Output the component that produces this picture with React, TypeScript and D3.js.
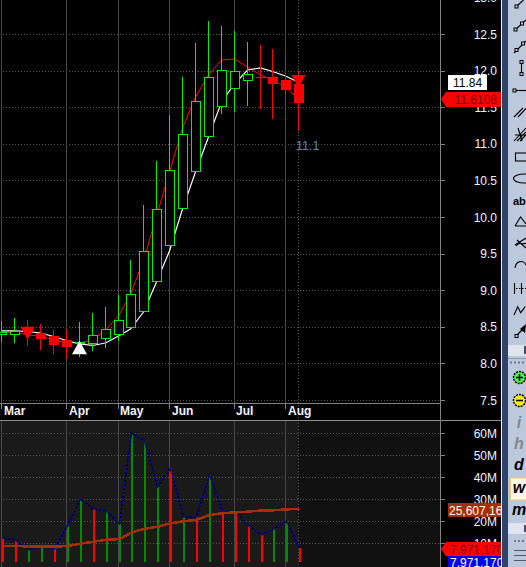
import React from "react";
import * as d3 from "d3";

const opens = [8.398,8.406,8.484,8.42,8.374,8.316,8.272,8.279,8.337,8.392,8.488,8.706,9.116,9.608,10.119,10.619,11.097,11.507,11.753,11.862,11.908,11.913,11.872,11.817];
const closes = [8.425,8.443,8.429,8.333,8.255,8.224,8.292,8.384,8.466,8.589,8.944,9.531,10.105,10.638,11.13,11.581,11.908,12.004,11.99,11.949,11.899,11.817,11.735,11.557];
const highs = [8.575,8.62,8.593,8.538,8.456,8.466,8.566,8.689,8.766,8.934,9.413,10.164,10.765,11.393,11.908,12.377,12.678,12.609,12.541,12.391,12.35,12.295,12.199,11.995];
const lows = [8.297,8.283,8.238,8.187,8.128,8.06,8.087,8.169,8.21,8.31,8.488,8.706,9.116,9.608,10.119,10.619,11.097,11.407,11.434,11.516,11.475,11.339,11.339,11.175];
const whiteLine = [8.443,8.443,8.436,8.415,8.367,8.313,8.265,8.245,8.279,8.374,8.47,8.702,9.112,9.536,10.109,10.615,11.093,11.571,11.817,12.008,12.036,11.988,11.926,11.84];
const redLine = [8.415,8.429,8.388,8.374,8.32,8.279,8.279,8.32,8.456,8.648,8.948,9.399,10.014,10.615,11.216,11.639,11.94,12.145,12.158,12.049,11.94,11.872,11.776,11.61];
const volumes = [12.3,11.4,7,8.8,7.4,17.9,30,25.6,24.5,18.8,60,56.5,35.6,44.1,22,22,41,24.7,24.3,17.9,13.8,16.5,20,7.97];
const volumeUp = [0,0,1,1,0,1,1,0,1,1,1,1,1,0,1,0,1,0,0,0,0,1,1,0];
const volumeAvg = [8.8,8.8,8.5,8.5,8.5,8.7,9.8,10.7,11.6,11.9,14.9,16.6,17.5,19,20,20.7,22.8,23.7,24,24.4,24.9,25,25.4,25.6];
const priceTicks = ["13.0","12.5","12.0","11.5","11.0","10.5","10.0","9.5","9.0","8.5","8.0","7.5"];
const volumeTicks = [60,50,40,30,20,10];
const months = ["Mar","Apr","May","Jun","Jul","Aug"];
const monthIndex = [0,5,9,13,18,22];
const monthLabelX = [4,69,120,172,236,288];
const sellSignals = [[2,8.5],[23,11.94]];
const buySignals = [[6,8.31]];

const FONT = "'Liberation Sans', Arial, sans-serif";
const xScale = d3.scaleLinear().domain([0,23]).range([1.3,298.3]);
const yPrice = d3.scaleLinear().domain([7.5,12.5]).range([400,34]);
const yVol = d3.scaleLinear().domain([1.6,60]).range([561.7,433.3]);
const px = (i:number)=>Math.round(xScale(i));
const idx = d3.range(opens.length);
const priceLine = (vals:number[]) => d3.line<number>().x(i=>px(i)+0.5).y(i=>yPrice(vals[i]))(idx) as string;
const volLine = (vals:number[]) => d3.line<number>().x(i=>px(i)+1.5).y(i=>yVol(vals[i]))(idx) as string;
const TXT = "#f0f4ff";
const GREEN = "#00f000";
const RED = "#ff0000";

function Toolbar(){
  const ic = {stroke:"#000",fill:"none",strokeWidth:1.1};
  const h = (x:number,y:number)=><rect x={x-1.5} y={y-1.5} width={3} height={3} fill="#bcc8dc" stroke="#000" strokeWidth={1}/>;
  const letter = (t:string,y:number,c:string)=><text x={519} y={y} textAnchor="middle" fontFamily="'Liberation Sans',sans-serif" fontStyle="italic" fontWeight="bold" fontSize={16} fill={c}>{t}</text>;
  return <g>
    <rect x={501} y={0} width={1} height={567} fill="#fff0c8"/>
    <rect x={502} y={0} width={6} height={567} fill="#2f4468"/>
    <rect x={508} y={0} width={18} height={567} fill="#bcc8dc"/>
    <path d="M517,6 L523.5,0" {...ic}/>{h(516.5,6.5)}
    <path d="M515,30 L526,20" {...ic}/>{h(515.5,29.5)}{h(522,23.5)}
    <path d="M514,53 L526,41" {...ic}/>{h(516.5,50)}{h(523,43.5)}
    <path d="M521.5,62 V74" {...ic}/>{h(521.5,62)}{h(521.5,74)}
    <path d="M514,90.5 H526" {...ic}/>{h(514.5,90.5)}
    <path d="M514,117 L523,108 M518,117 L526,108.5" {...ic}/>
    <path d="M514,141 L526,128 M517,141 L526,132 M520,141 L526,135 M515,135 H526 M518,128 L522,141" {...ic}/>
    <rect x={515.5} y={153} width={14} height={8} {...ic}/>
    <ellipse cx={524.5} cy={178.5} rx={11} ry={4.5} {...ic}/>
    <text x={513} y={205} fontWeight="bold" fontSize={11} fill="#000">abc</text>
    <path d="M515,226 L520.5,217 L526,224 M515,226 H526" {...ic}/>
    <path d="M515,245 L526,238 M517,240 L526,248 M516,246 C520,240 522,246 526,243" {...ic}/>
    <path d="M515,268 C516,260 524,260 526,265" {...ic}/>
    <path d="M514.5,283 V294 M521.5,283 V294" {...ic}/>
    <path d="M516,288.5 H526" {...ic} strokeDasharray="1.5 1.5"/>
    <path d="M514,315 L517.7,306.7 L520.7,312.7 L525.3,306.7" {...ic}/>
    <path d="M517,335 L525,327" stroke="#000" strokeWidth={1.2}/>{h(516.5,336)}
    <path d="M526,324 L520,329 L525,333 Z" fill="#000"/>
    <rect x={508} y={345} width={18} height={11} fill="#dfe4ef"/>
    <rect x={524} y={346} width={2} height={8} fill="#40506a"/>
    <path d="M510,362.5 H526" stroke="#6a7890" strokeWidth={2} strokeDasharray="2 2"/>
    <rect x={508} y={358} width={18} height={1} fill="#8f9bb0"/>
    <circle cx={519.5} cy={377.5} r={6} fill="#50f050" stroke="#000" strokeWidth={1.5} strokeDasharray="2 1"/>
    <path d="M516,377.5 H523 M519.5,374 V381" stroke="#000" strokeWidth={1.5}/>
    <circle cx={519.5} cy={400.5} r={6} fill="#f4e820" stroke="#000" strokeWidth={1.5} strokeDasharray="2 1"/>
    <path d="M516,400.5 H523" stroke="#000" strokeWidth={1.5}/>
    {letter("i",428,"#808890")}
    {letter("h",449,"#808890")}
    {letter("d",470,"#000")}
    <rect x={510.5} y={478} width={16} height={22} fill="#fff8e8" stroke="#f0c868" strokeWidth={1}/>
    {letter("w",493,"#000")}
    {letter("m",515,"#000")}
    <rect x={508} y={523} width={18} height={11} fill="#dfe4ef"/>
    <rect x={524} y={525} width={2} height={7} fill="#40506a"/>
    <path d="M514,541 H526" stroke="#6a7890" strokeWidth={2} strokeDasharray="2 2"/>
    <path d="M514,550.5 H526 M514,555.5 H526 M514,560.5 H526" stroke="#505a6c" strokeWidth={1}/>
  </g>;
}

export default function App(){
  const axisX = 440;
  const fmtVol = (v:number)=>`${v}M`;
  return (
    <svg width={526} height={567} style={{position:"absolute",left:0,top:0,background:"#000"}} fontFamily={FONT}>
      <defs>
        <clipPath id="right"><rect x={0} y={0} width={501} height={567}/></clipPath>
      </defs>
      <rect x={0} y={421} width={298} height={146} fill="#1a1a1a"/>
      <rect x={298} y={421} width={142} height={146} fill="#111"/>

      <g shapeRendering="crispEdges">
        {priceTicks.slice(1).map(t=>{const y=Math.round(yPrice(+t));return <g key={t}>
          <path d={`M3,${y+.5} H${axisX}`} stroke="#5a5a5a" strokeDasharray="1 2"/>
          <path d={`M${axisX},${y+.5} H445`} stroke="#808080"/>
        </g>;})}
        {volumeTicks.map(t=>{const y=Math.round(yVol(t));return <g key={t}>
          <path d={`M3,${y+.5} H${axisX}`} stroke="#5a5a5a" strokeDasharray="1 2"/>
          <path d={`M${axisX},${y+.5} H445`} stroke="#808080"/>
        </g>;})}
        {monthIndex.map(i=><g key={i}>
          <rect x={px(i)} y={0} width={1} height={403} fill="#484848"/>
          <rect x={px(i)} y={403} width={1} height={6} fill="#808080"/>
          <rect x={px(i)} y={421} width={1} height={146} fill="#484848"/>
        </g>)}
        <path d="M298.5,0 V567" stroke="#5a5a5a" strokeDasharray="1 2"/>
        <rect x={0} y={403} width={440} height={1} fill="#808080"/>
        <rect x={0} y={420} width={501} height={1} fill="#909090"/>
        <rect x={axisX} y={0} width={1} height={567} fill="#808080"/>
      </g>

      <path d={priceLine(redLine)} fill="none" stroke={RED} strokeWidth={1}/>
      <path d={priceLine(whiteLine)} fill="none" stroke="#fff" strokeWidth={1.2}/>

      <g shapeRendering="crispEdges">
        {idx.map(i=>{
          const up = closes[i]>=opens[i];
          const p = px(i);
          const c = up?GREEN:RED;
          const top = yPrice(Math.max(opens[i],closes[i]));
          const bot = yPrice(Math.min(opens[i],closes[i]));
          return <g key={i}>
            <rect x={p} y={yPrice(highs[i])} width={1} height={yPrice(lows[i])-yPrice(highs[i])} fill={c}/>
            {up
              ? <rect x={p-3.5} y={Math.round(top)+.5} width={9} height={Math.max(1,Math.round(bot-top))} fill="#000" stroke={GREEN}/>
              : <rect x={p-4} y={top} width={10} height={Math.max(1,bot-top)} fill={RED}/>}
          </g>;
        })}
      </g>

      {sellSignals.map(([i,v])=>{const x=px(i)+.5,y=yPrice(v);return <path key={i} d={`M${x-7},${y} H${x+7} L${x},${y+13} Z`} fill={RED}/>;})}
      {buySignals.map(([i,v])=>{const x=px(i)+.5,y=yPrice(v);return <path key={i} d={`M${x},${y} L${x+7.5},${y+13.5} H${x-7.5} Z`} fill="#fff"/>;})}

      <text x={296} y={150} fontSize={12.5} fill="#5f86ad">11.1</text>

      {months.map((m,k)=><text key={m} x={monthLabelX[k]} y={415} fontSize={12} fontWeight="bold" fill="#f0f4ff">{m}</text>)}

      <g shapeRendering="crispEdges">
        {idx.map(i=><rect key={i} x={px(i)+1} y={yVol(volumes[i])} width={2} height={yVol.range()[0]-yVol(volumes[i])} fill={volumeUp[i]?"#008a00":RED}/>)}
      </g>
      <path d={volLine(volumes)} fill="none" stroke="#000" strokeWidth={1.2}/>
      <path d={volLine(volumes)} fill="none" stroke="#0000ff" strokeWidth={1.2} strokeDasharray="2 2"/>
      <path d={volLine(volumeAvg)} fill="none" stroke="#a33000" strokeWidth={2.5} shapeRendering="crispEdges"/>

      <g clipPath="url(#right)" fontSize={12} fill={TXT}>
        {priceTicks.map(t=><text key={t} x={497} y={yPrice(+t)+4.5} textAnchor="end">{t}</text>)}
        {volumeTicks.map(t=><text key={t} x={497} y={yVol(t)+4.5} textAnchor="end">{fmtVol(t)}</text>)}

        <rect x={448} y={75} width={39} height={15} fill="#fff"/>
        <text x={467.5} y={87} textAnchor="middle" fill="#000">{whiteLine[23].toFixed(2)}</text>

        <path d="M441,99 L446,92 H501 V107 H446 Z" fill={RED}/>
        <text x={497} y={104} textAnchor="end" fill="#7a0000">11.6108</text>

        <rect x={448} y={503} width={53} height={14} fill="#a33000"/>
        <text x={449} y={514.5} fill="#fff">25,607,160</text>

        <path d="M441,549 L446,542 H501 V556 H446 Z" fill={RED}/>
        <text x={450} y={553.5} fill="#7a0000">7,971,170</text>

        <rect x={448} y={556} width={53} height={11} fill="#0000f0"/>
        <text x={450} y={567} fill="#fff">7,971,170</text>
      </g>

      <Toolbar/>
    </svg>
  );
}
